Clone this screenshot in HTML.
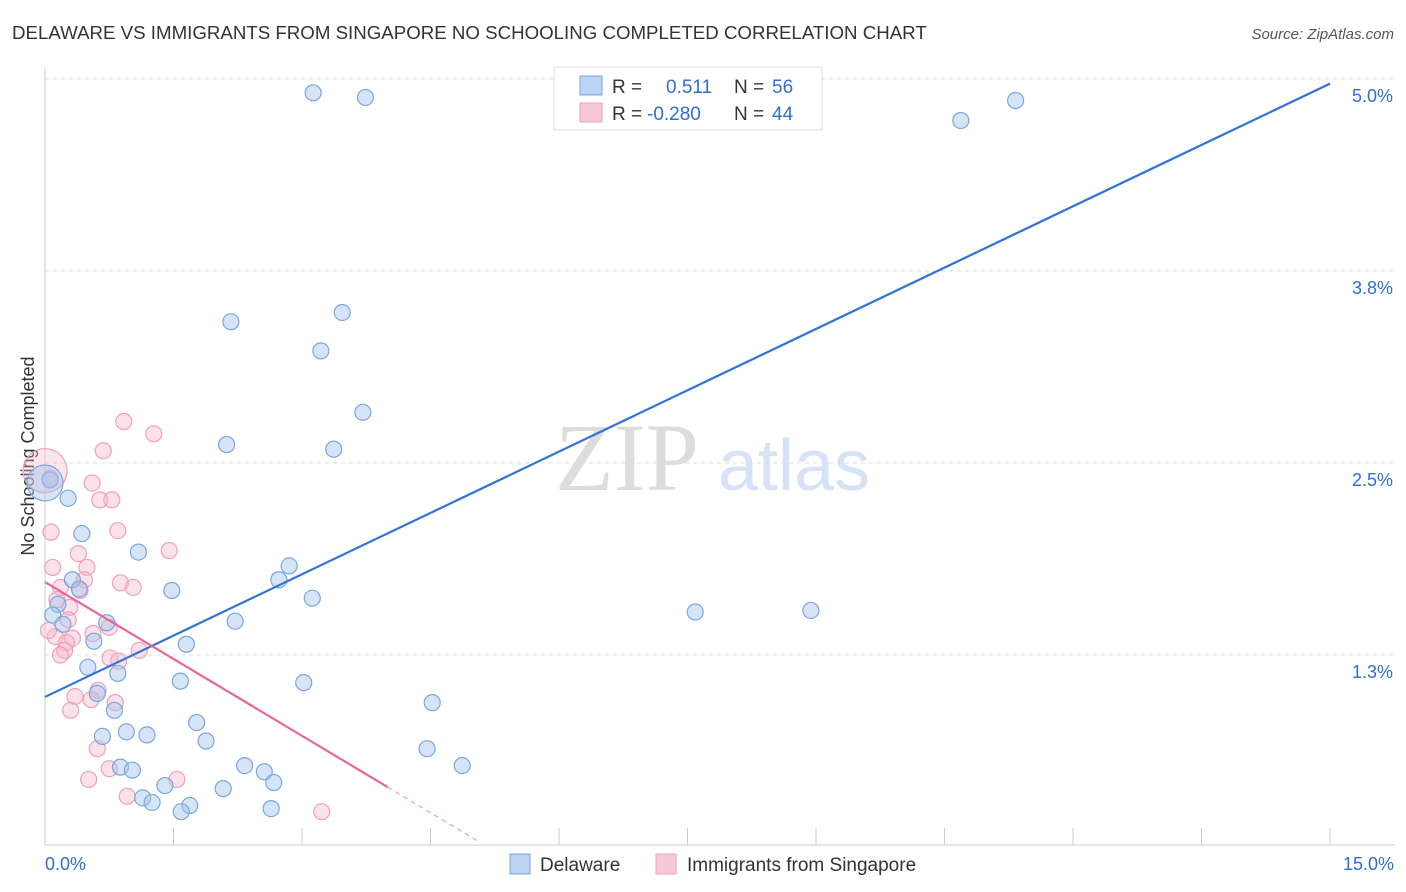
<!DOCTYPE html>
<html><head><meta charset="utf-8"><style>
body{margin:0;background:#fff;font-family:"Liberation Sans",sans-serif;}
svg{display:block}
</style></head><body>
<svg id="chart" width="1406" height="892">
<text x="12" y="39" font-size="18.7" fill="#333">DELAWARE VS IMMIGRANTS FROM SINGAPORE NO SCHOOLING COMPLETED CORRELATION CHART</text>
<text x="1394" y="39" font-size="15" fill="#555" font-style="italic" text-anchor="end">Source: ZipAtlas.com</text>
<text x="34" y="456" font-size="18" fill="#333" transform="rotate(-90 34 456)" text-anchor="middle">No Schooling Completed</text>
<g>
<text x="555" y="490" font-size="96" fill="#ddd" font-family="Liberation Serif,serif">ZIP</text>
<text x="718" y="490" font-size="72" fill="#d6e2f5">atlas</text>
</g>
<g id="grid"></g><g id="marks"></g>
<g>
<rect x="554" y="67" width="268" height="63" fill="#fff" stroke="#ddd"/>
<rect x="580" y="76" width="22" height="19" fill="#bcd3f2" stroke="#7aa6e0"/>
<rect x="580" y="103" width="22" height="19" fill="#f9c8d7" stroke="#f0a0b8"/>
<text x="612" y="93" font-size="19" fill="#333">R =</text><text x="666" y="93" font-size="19" fill="#2f6fd0">0.511</text>
<text x="734" y="93" font-size="19" fill="#333">N =</text><text x="772" y="93" font-size="19" fill="#2f6fd0">56</text>
<text x="612" y="120" font-size="19" fill="#333">R =</text><text x="647" y="120" font-size="19" fill="#2f6fd0">-0.280</text>
<text x="734" y="120" font-size="19" fill="#333">N =</text><text x="772" y="120" font-size="19" fill="#2f6fd0">44</text>
</g>
<g>
<rect x="510" y="854" width="20" height="20" fill="#bcd3f2" stroke="#7aa6e0"/>
<text x="540" y="871" font-size="19" fill="#333">Delaware</text>
<rect x="656" y="854" width="20" height="20" fill="#f9c8d7" stroke="#f0a0b8"/>
<text x="687" y="871" font-size="19" fill="#333">Immigrants from Singapore</text>
</g>
</svg>
<script>
const yTicks=[1.25,2.5,3.75,5.0];
const yTickLabels=["1.3%","2.5%","3.8%","5.0%"];
const xTickLabels=["0.0%","15.0%"];
const blueX=[3.13,3.74,10.69,11.33,2.17,3.47,3.22,3.71,2.12,3.37,0.27,0.43,1.09,2.85,2.73,0.32,0.40,1.48,3.12,0.15,0.09,0.72,2.22,0.21,0.57,1.65,0.50,0.85,1.58,3.02,0.61,4.52,0.81,1.77,0.95,1.19,1.88,4.46,0.67,2.33,0.88,1.02,4.87,2.56,2.67,1.40,2.08,1.14,1.25,1.69,1.59,2.64,7.59,8.94,0.06];
const blueY=[4.91,4.88,4.73,4.86,3.42,3.48,3.23,2.83,2.62,2.59,2.27,2.04,1.92,1.83,1.74,1.74,1.68,1.67,1.62,1.58,1.51,1.46,1.47,1.45,1.34,1.32,1.17,1.13,1.08,1.07,1.00,0.94,0.89,0.81,0.75,0.73,0.69,0.64,0.72,0.53,0.52,0.50,0.53,0.49,0.42,0.40,0.38,0.32,0.29,0.27,0.23,0.25,1.53,1.54,2.39];
const pinkX=[0.06,0.92,1.27,0.68,0.55,0.64,0.78,0.85,0.07,0.39,1.45,0.49,0.09,0.46,0.88,0.18,1.03,0.41,0.29,0.14,0.27,0.75,0.56,0.12,0.32,0.25,1.10,0.76,0.86,0.23,0.62,0.35,0.82,0.54,0.30,0.61,0.75,0.51,1.54,0.96,3.23,0.04,0.18];
const pinkY=[2.40,2.77,2.69,2.58,2.37,2.26,2.26,2.06,2.05,1.91,1.93,1.82,1.82,1.74,1.72,1.69,1.69,1.67,1.56,1.61,1.48,1.43,1.39,1.37,1.36,1.33,1.28,1.23,1.21,1.28,1.02,0.98,0.94,0.96,0.89,0.64,0.51,0.44,0.44,0.33,0.23,1.41,1.25];
const bigBlue=[0,2.37];const bigPink=[0,2.45];
const blueTrend=[0.977,4.97];const pinkTrend=[1.725,0.39,4.0];
const X=v=>45+v*85.67, Y=v=>847-v*153.6;
const NS="http://www.w3.org/2000/svg";
const grid=document.getElementById('grid'), marks=document.getElementById('marks');
function mk(p,tag,a){const e=document.createElementNS(NS,tag);for(const k in a)e.setAttribute(k,a[k]);p.appendChild(e);return e;}
yTicks.forEach((t,i)=>{
 const l=mk(grid,'line',{x1:45,x2:1395,y1:Y(t),y2:Y(t),stroke:'#ddd','stroke-dasharray':'4,4'});
 
 
 const tx=mk(grid,'text',{x:1393,y:Y(t)+23,'font-size':18,fill:'#2f6fd0','text-anchor':'end'});tx.textContent=yTickLabels[i];
 
 
});
const ax=mk(grid,'line',{x1:45,x2:1395,y1:845,y2:845,stroke:'#ccc'});


mk(grid,'line',{x1:45,x2:45,y1:68,y2:845,stroke:'#ccc'});
for(let i=0;i<=10;i++){const t=mk(grid,'line',{x1:X(i*1.5),x2:X(i*1.5),y1:828,y2:845,stroke:'#ccc'});
 
 }
[[0,'start',45],[1,'end',1394]].forEach(([i,a,x])=>{const t=mk(grid,'text',{x:x,y:870,'font-size':18,fill:'#2f6fd0','text-anchor':a});t.textContent=xTickLabels[i];
 
 });
function dot(x,y,r,c,s,name){const e=mk(marks,'circle',{cx:X(x),cy:Y(y),r:r,fill:c,stroke:s,'stroke-width':1.2});
 
 }
pinkX.forEach((x,i)=>dot(x,pinkY[i],8,'rgba(246,182,202,0.4)','#f0a0b8','singapore-point'));
dot(bigPink[0],bigPink[1],22,'rgba(246,182,202,0.35)','#f0a0b8','singapore-point');
blueX.forEach((x,i)=>dot(x,blueY[i],8,'rgba(165,195,238,0.45)','#7aa6e0','delaware-point'));
dot(bigBlue[0],bigBlue[1],18,'rgba(165,195,238,0.45)','#7aa6e0','delaware-point');
const bl=mk(marks,'line',{x1:X(0),y1:Y(blueTrend[0]),x2:X(15),y2:Y(blueTrend[1]),stroke:'#2f74d6','stroke-width':2.2});


const slope=(pinkTrend[1]-pinkTrend[0])/pinkTrend[2];
const pl=mk(marks,'line',{x1:X(0),y1:Y(pinkTrend[0]),x2:X(pinkTrend[2]),y2:Y(pinkTrend[1]),stroke:'#e8679a','stroke-width':2.2});


const xe=-pinkTrend[0]/slope*0.98;
const pd=mk(marks,'line',{x1:X(pinkTrend[2]),y1:Y(pinkTrend[1]),x2:X(xe),y2:Y(pinkTrend[0]+slope*xe),stroke:'#f0a0b8','stroke-width':1.2,'stroke-dasharray':'5,4'});


</script>
</body></html>
